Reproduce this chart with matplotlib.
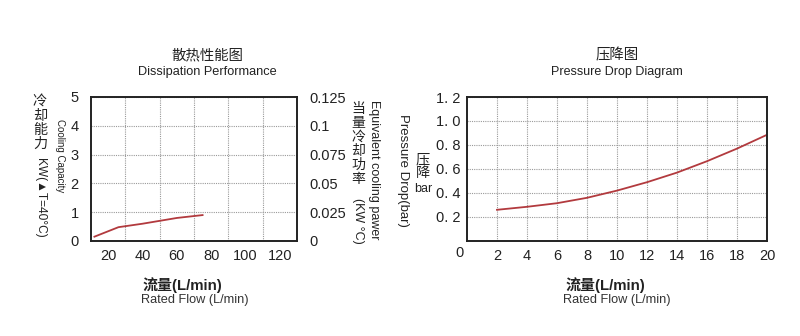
import matplotlib
matplotlib.use("Agg")
import matplotlib.pyplot as plt
from matplotlib.ticker import FixedLocator

plt.rcParams['font.family'] = ['Liberation Sans', 'Noto Sans CJK SC', 'DejaVu Sans']
CJK = ['Noto Sans CJK SC', 'DejaVu Sans']
LAT_CJK = ['Liberation Sans', 'Noto Sans CJK SC', 'DejaVu Sans']

# Dissipation performance: flow (L/min) vs cooling capacity (kW)
flow_cool = [12, 26, 40, 50, 60, 75]
cap_cool = [0.15, 0.48, 0.60, 0.70, 0.80, 0.90]
cool_xticks = [20, 40, 60, 80, 100, 120]
cool_yticks = [0, 1, 2, 3, 4, 5]
equiv_ticks = [0, 0.025, 0.05, 0.075, 0.1, 0.125]
equiv_labels = ['0', '0.025', '0.05', '0.075', '0.1', '0.125']

# Pressure drop: flow (L/min) vs pressure drop (bar)
flow_pd = [2, 4, 6, 8, 10, 12, 14, 16, 18, 20]
drop_pd = [0.26, 0.285, 0.315, 0.36, 0.42, 0.49, 0.57, 0.665, 0.77, 0.885]
pd_xticks = [2, 4, 6, 8, 10, 12, 14, 16, 18, 20]
pd_yticks = [0.2, 0.4, 0.6, 0.8, 1.0, 1.2]
pd_ylabels = ['0. 2', '0. 4', '0. 6', '0. 8', '1. 0', '1. 2']

LINE = '#b23a3e'
TXT = '#222222'
GRID = dict(color='#9a9a9a', linestyle=(0, (1, 1)), linewidth=0.8)

fig = plt.figure(figsize=(8, 3.36), dpi=100)

def fx(px):
    return px / 800

def fy(py):
    return 1 - py / 336

# ---------- left chart ----------
ax1 = fig.add_axes([fx(91), fy(241), fx(206), 144 / 336])
ax1.plot(flow_cool, cap_cool, color=LINE, lw=1.3)
ax1.set_xlim(10, 130)
ax1.set_ylim(0, 5)
ax1.set_xticks(cool_xticks)
ax1.xaxis.set_minor_locator(FixedLocator([30, 50, 70, 90, 110]))
ax1.set_yticks(cool_yticks)
ax1.grid(False)
ax1.grid(True, which='minor', axis='x', **GRID)
ax1.grid(True, which='major', axis='y', **GRID)
ax1.tick_params(which='both', length=0)
ax1.tick_params(axis='x', labelsize=10.5, pad=6, labelcolor=TXT)
ax1.tick_params(axis='y', labelsize=10.5, pad=9, labelcolor=TXT)
for s in ax1.spines.values():
    s.set_linewidth(1.4)
    s.set_color('#222222')

ax1r = ax1.twinx()
ax1r.set_ylim(0, 0.125)
ax1r.set_yticks(equiv_ticks)
ax1r.set_yticklabels(equiv_labels)
ax1r.tick_params(length=0, labelsize=10.5, pad=9, labelcolor=TXT)
for s in ax1r.spines.values():
    s.set_visible(False)

fig.text(fx(207), fy(55), '散热性能图', ha='center', va='center', fontsize=10.4,
         family=CJK, color=TXT)
fig.text(fx(207), fy(72), 'Dissipation Performance', ha='center', va='center',
         fontsize=9.2, color=TXT)
fig.text(fx(182), fy(285), '流量(L/min)', ha='center', va='center', fontsize=10.8,
         family=LAT_CJK, weight='bold', color=TXT)
fig.text(fx(195), fy(300), 'Rated Flow (L/min)', ha='center', va='center',
         fontsize=9.2, color='#333333')

# left y label: stacked CJK followed by rotated Latin
fig.text(fx(40), fy(95), '冷\n却\n能\n力', ha='center', va='top', fontsize=10.2,
         family=CJK, linespacing=1.0, color=TXT)
fig.text(fx(40), fy(158), 'KW(▲T=40°C)', ha='center', va='top', rotation=270,
         fontsize=8.6, color=TXT)
fig.text(fx(60), fy(156), 'Cooling Capacity', ha='center', va='center',
         rotation=270, fontsize=7, color=TXT)

# right y label
fig.text(fx(358), fy(102), '当\n量\n冷\n却\n功\n率', ha='center', va='top',
         fontsize=10, family=CJK, linespacing=1.0, color=TXT)
fig.text(fx(358), fy(198), '(KW °C)', ha='center', va='top', rotation=270,
         fontsize=9, color=TXT)
fig.text(fx(374), fy(170), 'Equivalent cooling pawer', ha='center', va='center',
         rotation=270, fontsize=9, color=TXT)

# ---------- right chart ----------
ax2 = fig.add_axes([fx(467), fy(241), fx(300), 144 / 336])
ax2.plot(flow_pd, drop_pd, color=LINE, lw=1.3)
ax2.set_xlim(0, 20)
ax2.set_ylim(0, 1.2)
ax2.set_xticks(pd_xticks)
ax2.set_yticks(pd_yticks)
ax2.set_yticklabels(pd_ylabels)
ax2.grid(True, **GRID)
ax2.tick_params(length=0)
ax2.tick_params(axis='x', labelsize=10.5, pad=6, labelcolor=TXT)
ax2.tick_params(axis='y', labelsize=10.5, pad=5, labelcolor=TXT)
for s in ax2.spines.values():
    s.set_linewidth(1.4)
    s.set_color('#222222')
ax2.text(-0.25, -0.1, '0', transform=ax2.transData, ha='right', va='center',
         fontsize=10.5, color=TXT)

fig.text(fx(617), fy(55), '压降图', ha='center', va='center', fontsize=10.4,
         family=CJK, color=TXT)
fig.text(fx(617), fy(72), 'Pressure Drop Diagram', ha='center', va='center',
         fontsize=9, color=TXT)
fig.text(fx(605), fy(285), '流量(L/min)', ha='center', va='center', fontsize=10.8,
         family=LAT_CJK, weight='bold', color=TXT)
fig.text(fx(617), fy(300), 'Rated Flow (L/min)', ha='center', va='center',
         fontsize=9.2, color='#333333')

fig.text(fx(403), fy(170), 'Pressure Drop(bar)', ha='center', va='center',
         rotation=270, fontsize=9.5, color=TXT)
fig.text(fx(423), fy(152), '压\n降', ha='center', va='top', fontsize=10.2,
         family=CJK, linespacing=1.0, color=TXT)
fig.text(fx(423), fy(189), 'bar', ha='center', va='center', fontsize=9,
         color=TXT)

fig.savefig('out.png', dpi=100, facecolor='white')
